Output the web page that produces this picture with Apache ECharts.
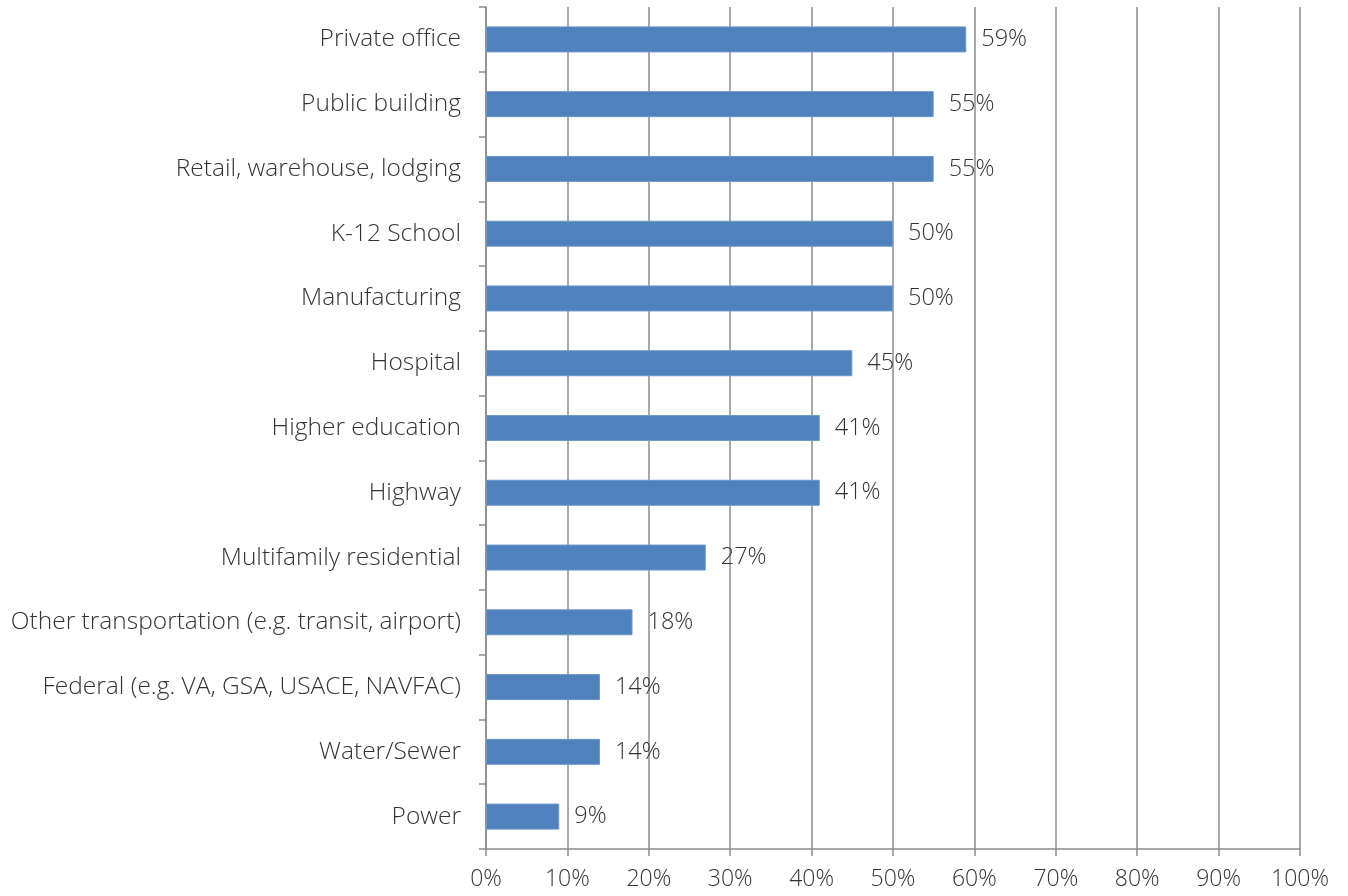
<!DOCTYPE html>
<html>
<head>
<meta charset="utf-8">
<script src="https://cdn.jsdelivr.net/npm/echarts@6/dist/echarts.min.js"></script>
<style>
  html, body { margin: 0; padding: 0; background: #fff; }
  #main { width: 1348px; height: 896px; }
</style>
</head>
<body>
<div id="main"></div>
<script>
// categories listed top to bottom
var categories = [
  'Private office',
  'Public building',
  'Retail, warehouse, lodging',
  'K-12 School',
  'Manufacturing',
  'Hospital',
  'Higher education',
  'Highway',
  'Multifamily residential',
  'Other transportation (e.g. transit, airport)',
  'Federal (e.g. VA, GSA, USACE, NAVFAC)',
  'Water/Sewer',
  'Power'
];
var values = [59, 55, 55, 50, 50, 45, 41, 41, 27, 18, 14, 14, 9];

var fontName = 'Open Sans';
var gray = '#8c8c8c';

var myChart = echarts.init(document.getElementById('main'));
var option = {
  animation: false,
  grid: { left: 486, right: 48, top: 7, bottom: 47, containLabel: false },
  xAxis: {
    type: 'value',
    min: 0,
    max: 100,
    interval: 10,
    axisLine: { show: true, lineStyle: { color: gray, width: 1.5 } },
    axisTick: { show: true, length: 7, lineStyle: { color: gray, width: 1.5 } },
    axisLabel: {
      formatter: '{value}%',
      margin: 19,
      color: '#333',
      fontSize: 23,
      fontFamily: fontName,
      fontWeight: 300
    },
    splitLine: { show: true, lineStyle: { color: gray, width: 1.5 } }
  },
  yAxis: {
    type: 'category',
    inverse: true,
    data: categories,
    axisLine: { show: true, lineStyle: { color: gray, width: 1.5 } },
    axisTick: { show: true, length: 7, lineStyle: { color: gray, width: 1.5 } },
    axisLabel: {
      margin: 25,
      color: '#333',
      fontSize: 24.5,
      fontFamily: fontName,
      fontWeight: 300
    }
  },
  series: [{
    type: 'bar',
    data: values,
    barWidth: 26,
    itemStyle: { color: '#4f81bd', borderColor: '#6d98cb', borderWidth: 1 },
    label: {
      show: true,
      position: 'right',
      distance: 15,
      formatter: '{c}%',
      color: '#333',
      fontSize: 23.5,
      fontFamily: fontName,
      fontWeight: 300
    }
  }]
};
myChart.setOption(option);
</script>
</body>
</html>
